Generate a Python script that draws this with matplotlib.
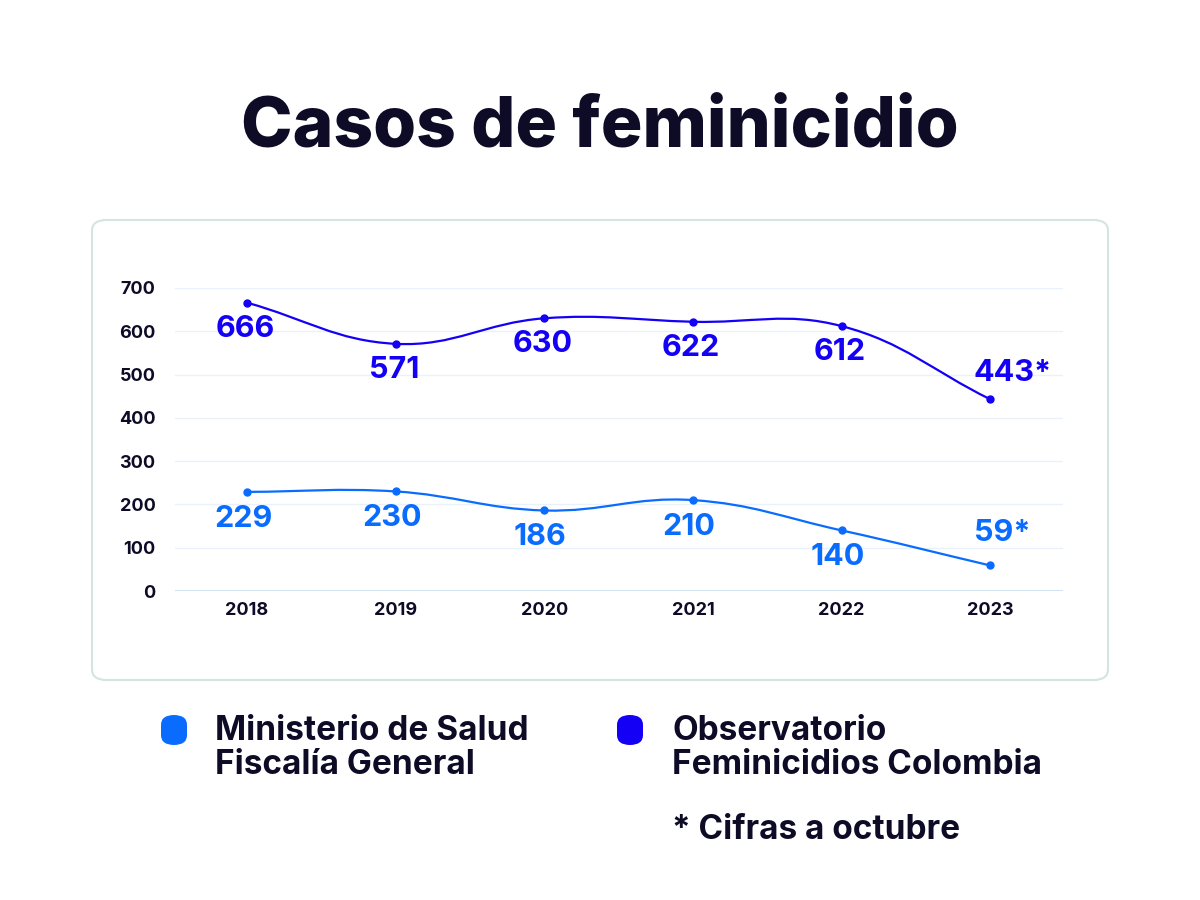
import numpy as np
import matplotlib
matplotlib.use("Agg")
import matplotlib.pyplot as plt
from matplotlib.path import Path
from matplotlib.patches import PathPatch, FancyBboxPatch

plt.rcParams["font.family"] = ["Inter", "DejaVu Sans"]

years = ["2018", "2019", "2020", "2021", "2022", "2023"]
salud_values = [229, 230, 186, 210, 140, 59]
observatorio_values = [666, 571, 630, 622, 612, 443]
salud_labels = ["229", "230", "186", "210", "140", "59*"]
observatorio_labels = ["666", "571", "630", "622", "612", "443*"]
legend_names = ["Ministerio de Salud\nFiscalía General", "Observatorio\nFeminicidios Colombia"]
y_ticks = [0, 100, 200, 300, 400, 500, 600, 700]

LIGHT = "#0a6cff"
DARK = "#1400f5"
INK = "#0d0b26"


def spline_path(ax, xs, ys, tension=0.4):
    # chart.js style spline, control points worked out in pixel space
    pts = ax.transData.transform(np.column_stack([xs, ys]))
    n = len(pts)
    cp_prev = pts.copy()
    cp_next = pts.copy()
    for i in range(n):
        p0 = pts[max(i - 1, 0)]
        p1 = pts[i]
        p2 = pts[min(i + 1, n - 1)]
        d01 = np.hypot(*(p1 - p0))
        d12 = np.hypot(*(p2 - p1))
        tot = d01 + d12
        if tot == 0:
            continue
        fa = tension * d01 / tot
        fb = tension * d12 / tot
        cp_prev[i] = p1 - fa * (p2 - p0)
        cp_next[i] = p1 + fb * (p2 - p0)
    inv = ax.transData.inverted()
    pts_d = inv.transform(pts)
    prev_d = inv.transform(cp_prev)
    next_d = inv.transform(cp_next)
    verts = [pts_d[0]]
    codes = [Path.MOVETO]
    for i in range(n - 1):
        verts += [next_d[i], prev_d[i + 1], pts_d[i + 1]]
        codes += [Path.CURVE4] * 3
    return Path(verts, codes)


fig = plt.figure(figsize=(12, 9), dpi=100)
fig.patch.set_facecolor("white")

card = FancyBboxPatch((92 / 1200, 1 - 680 / 900), 1016 / 1200, 460 / 900,
                      boxstyle="round,pad=0,rounding_size=0.012",
                      transform=fig.transFigure, facecolor="white",
                      edgecolor="#d3e4e1", linewidth=1.5, zorder=-5)
fig.patches.append(card)

fig.text(0.5, 1 - 128 / 900, "Casos de feminicidio", ha="center", va="center",
         fontsize=50, fontweight="heavy", color=INK)

ax = fig.add_axes([175 / 1200, 1 - 591 / 900, 888 / 1200, 303 / 900], zorder=2)
ax.set_facecolor("none")
x = np.arange(len(years))
ax.set_xlim(-0.485, len(years) - 1 + 0.49)
ax.set_ylim(0, 700)

for vals, color in [(salud_values, LIGHT), (observatorio_values, DARK)]:
    ax.add_patch(PathPatch(spline_path(ax, x, vals), facecolor="none",
                           edgecolor=color, linewidth=1.6, zorder=3))
    ax.plot(x, vals, "o", color=color, markersize=5, zorder=4)

# value labels: below the point, except the last one goes above
for i, (v, lab) in enumerate(zip(observatorio_values, observatorio_labels)):
    off = (22, 26) if i == len(years) - 1 else (-2, -26)
    ax.annotate(lab, (x[i], v), xytext=off, textcoords="offset pixels",
                ha="center", va="center", fontsize=22, fontweight="bold", color=DARK)
for i, (v, lab) in enumerate(zip(salud_values, salud_labels)):
    off = (12, 32) if i == len(years) - 1 else (-4, -27)
    ax.annotate(lab, (x[i], v), xytext=off, textcoords="offset pixels",
                ha="center", va="center", fontsize=22, fontweight="bold", color=LIGHT)

ax.set_yticks(y_ticks)
ax.set_xticks(x)
ax.set_xticklabels(years)
ax.tick_params(length=0, labelsize=13, labelcolor=INK)
ax.tick_params(axis="y", pad=14)
ax.tick_params(axis="x", pad=8)
for lbl in ax.get_xticklabels() + ax.get_yticklabels():
    lbl.set_fontweight("bold")
for s in ax.spines.values():
    s.set_visible(False)
for t in y_ticks[1:]:
    ax.axhline(t, color="#e9f2fb", linewidth=1, zorder=1)
ax.axhline(0, color="#c9dbf2", linewidth=1.2, zorder=1)

# legend
for name, color, lx, tx in [(legend_names[0], LIGHT, 174, 215),
                            (legend_names[1], DARK, 630, 672)]:
    fig.patches.append(FancyBboxPatch(((lx - 13) / 1200, 1 - 745 / 900), 26 / 1200, 30 / 900,
                                      boxstyle="round,pad=0,rounding_size=0.011",
                                      transform=fig.transFigure, facecolor=color,
                                      edgecolor="none"))
    fig.text(tx / 1200, 1 - 748 / 900, name, ha="left", va="center",
             fontsize=24, fontweight="bold", color=INK, linespacing=1.1)

fig.text(672 / 1200, 1 - 830 / 900, "* Cifras a octubre", ha="left", va="center",
         fontsize=24, fontweight="bold", color=INK)

fig.savefig("out.png", dpi=100)
